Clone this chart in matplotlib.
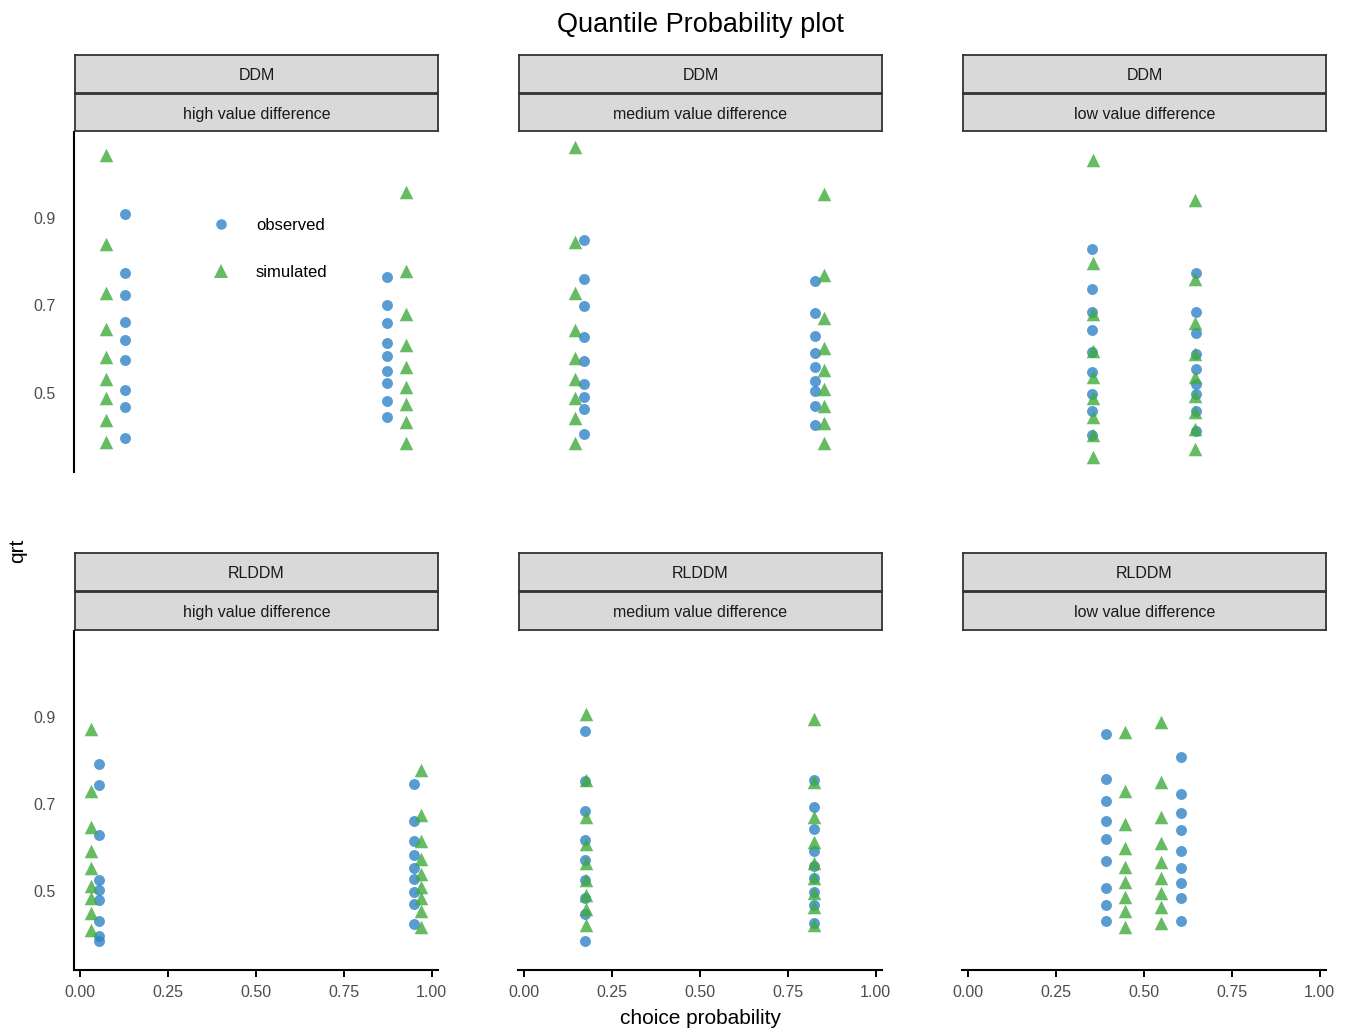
import matplotlib
matplotlib.use('Agg')
import matplotlib.pyplot as plt
from matplotlib.lines import Line2D

plt.rcParams['font.family'] = ['Liberation Sans', 'DejaVu Sans']

# ---------------- data ----------------
models = ['DDM', 'RLDDM']
conditions = ['high value difference', 'medium value difference', 'low value difference']
x_ticks = [0.0, 0.25, 0.5, 0.75, 1.0]
x_tick_labels = ['0.00', '0.25', '0.50', '0.75', '1.00']
y_ticks = [0.5, 0.7, 0.9]
y_tick_labels = ['0.5', '0.7', '0.9']

# choice probabilities (x positions of the columns), two options per panel
ddm_high_obs_p = [0.127, 0.873]
ddm_high_sim_p = [0.074, 0.926]
ddm_med_obs_p = [0.170, 0.827]
ddm_med_sim_p = [0.145, 0.853]
ddm_low_obs_p = [0.352, 0.648]
ddm_low_sim_p = [0.355, 0.645]
rl_high_obs_p = [0.053, 0.949]
rl_high_sim_p = [0.030, 0.971]
rl_med_obs_p = [0.173, 0.825]
rl_med_sim_p = [0.176, 0.824]
rl_low_obs_p = [0.392, 0.605]
rl_low_sim_p = [0.446, 0.550]

# response-time quantiles per option (9 quantiles each)
ddm_high_obs_q = [[0.911, 0.775, 0.725, 0.661, 0.620, 0.574, 0.505, 0.467, 0.396],
                  [0.766, 0.700, 0.659, 0.614, 0.585, 0.549, 0.522, 0.480, 0.444]]
ddm_high_sim_q = [[1.046, 0.842, 0.728, 0.646, 0.581, 0.531, 0.488, 0.438, 0.387],
                  [0.960, 0.780, 0.680, 0.610, 0.558, 0.514, 0.473, 0.432, 0.385]]
ddm_med_obs_q = [[0.850, 0.761, 0.699, 0.627, 0.573, 0.520, 0.490, 0.463, 0.406],
                 [0.756, 0.682, 0.631, 0.591, 0.558, 0.527, 0.503, 0.470, 0.425]]
ddm_med_sim_q = [[1.063, 0.846, 0.728, 0.644, 0.579, 0.531, 0.488, 0.442, 0.385],
                 [0.955, 0.771, 0.672, 0.602, 0.553, 0.509, 0.470, 0.431, 0.385]]
ddm_low_obs_q = [[0.829, 0.737, 0.686, 0.643, 0.594, 0.547, 0.498, 0.457, 0.404],
                 [0.774, 0.686, 0.638, 0.588, 0.554, 0.521, 0.497, 0.457, 0.412]]
ddm_low_sim_q = [[1.034, 0.798, 0.680, 0.596, 0.536, 0.488, 0.444, 0.402, 0.353],
                 [0.943, 0.761, 0.659, 0.588, 0.535, 0.493, 0.455, 0.417, 0.370]]
rl_high_obs_q = [[0.792, 0.744, 0.628, 0.525, 0.502, 0.478, 0.430, 0.397, 0.384],
                 [0.745, 0.660, 0.615, 0.582, 0.552, 0.527, 0.498, 0.470, 0.424]]
rl_high_sim_q = [[0.872, 0.729, 0.646, 0.591, 0.552, 0.511, 0.483, 0.450, 0.409],
                 [0.778, 0.674, 0.614, 0.573, 0.540, 0.510, 0.483, 0.453, 0.418]]
rl_med_obs_q = [[0.868, 0.754, 0.683, 0.618, 0.572, 0.524, 0.483, 0.447, 0.384],
                [0.755, 0.693, 0.642, 0.591, 0.557, 0.529, 0.498, 0.468, 0.426]]
rl_med_sim_q = [[0.906, 0.755, 0.670, 0.609, 0.565, 0.525, 0.491, 0.458, 0.422],
                [0.896, 0.751, 0.670, 0.613, 0.565, 0.529, 0.496, 0.462, 0.422]]
rl_low_obs_q = [[0.860, 0.758, 0.706, 0.661, 0.619, 0.569, 0.506, 0.468, 0.431],
                [0.809, 0.723, 0.679, 0.641, 0.592, 0.553, 0.519, 0.483, 0.431]]
rl_low_sim_q = [[0.866, 0.731, 0.655, 0.599, 0.556, 0.521, 0.487, 0.454, 0.416],
                [0.889, 0.751, 0.670, 0.611, 0.566, 0.530, 0.496, 0.463, 0.425]]

panels = [
    [(ddm_high_obs_p, ddm_high_obs_q, ddm_high_sim_p, ddm_high_sim_q),
     (ddm_med_obs_p, ddm_med_obs_q, ddm_med_sim_p, ddm_med_sim_q),
     (ddm_low_obs_p, ddm_low_obs_q, ddm_low_sim_p, ddm_low_sim_q)],
    [(rl_high_obs_p, rl_high_obs_q, rl_high_sim_p, rl_high_sim_q),
     (rl_med_obs_p, rl_med_obs_q, rl_med_sim_p, rl_med_sim_q),
     (rl_low_obs_p, rl_low_obs_q, rl_low_sim_p, rl_low_sim_q)],
]

# ---------------- style ----------------
BLUE = '#2f83c8'
GREEN = '#40aa3c'
ALPHA = 0.8
STRIP_FILL = '#d9d9d9'
STRIP_EDGE = '#333333'
TICK_COLOR = '#4d4d4d'

W, H = 1353, 1030
fig = plt.figure(figsize=(W / 100, H / 100), dpi=100)


def fx(x):
    return x / W


def fy(y):
    return 1 - y / H


col_left = [74, 518, 962]
col_w = 364
row_top = [132, 631]
row_bot = [472, 970]
strip_rows = [[(55, 93), (94, 131)], [(553, 591), (592, 630)]]

first_ax = None
for r in range(2):
    for c in range(3):
        L = col_left[c]
        ax = fig.add_axes([fx(L), fy(row_bot[r]), col_w / W, (row_bot[r] - row_top[r]) / H])
        obs_p, obs_q, sim_p, sim_q = panels[r][c]
        for p, q in zip(obs_p, obs_q):
            ax.scatter([p] * len(q), q, s=62, marker='o', color=BLUE, alpha=ALPHA,
                       linewidths=0, zorder=3)
        for p, q in zip(sim_p, sim_q):
            ax.scatter([p] * len(q), q, s=95, marker='^', color=GREEN, alpha=ALPHA,
                       linewidths=0, zorder=4)
        ax.set_xlim(-0.017, 1.018)
        ax.set_ylim(0.318, 1.098)
        for sp in ax.spines.values():
            sp.set_visible(False)
        ax.set_xticks(x_ticks)
        ax.set_yticks(y_ticks)
        if r == 1:
            ax.spines['bottom'].set_visible(True)
            ax.spines['bottom'].set_linewidth(1.5)
            ax.set_xticklabels(x_tick_labels)
            ax.tick_params(axis='x', length=5, width=1.4, color='black',
                           labelcolor=TICK_COLOR, labelsize=11.5, pad=6)
        else:
            ax.tick_params(axis='x', bottom=False, labelbottom=False)
        if c == 0:
            ax.spines['left'].set_visible(True)
            ax.spines['left'].set_linewidth(1.5)
            ax.set_yticklabels(y_tick_labels)
            ax.tick_params(axis='y', length=0, labelcolor=TICK_COLOR, labelsize=11.5, pad=13)
        else:
            ax.tick_params(axis='y', left=False, labelleft=False)
        if first_ax is None:
            first_ax = ax

        # strips
        for (t, b), label in zip(strip_rows[r], [models[r], conditions[c]]):
            sax = fig.add_axes([fx(L + 1), fy(b), (col_w - 1) / W, (b - t) / H])
            sax.set_facecolor(STRIP_FILL)
            sax.set_xticks([])
            sax.set_yticks([])
            for sp in sax.spines.values():
                sp.set_color(STRIP_EDGE)
                sp.set_linewidth(1.3)
            sax.text(0.5, 0.45, label, ha='center', va='center', fontsize=11.5,
                     color='#1a1a1a', transform=sax.transAxes)

# legend
handles = [Line2D([], [], marker='o', ls='', color=BLUE, alpha=ALPHA, markersize=7.6,
                  markeredgewidth=0),
           Line2D([], [], marker='^', ls='', color=GREEN, alpha=ALPHA, markersize=9.5,
                  markeredgewidth=0)]
first_ax.legend(handles, ['observed', 'simulated'], loc='upper left',
                bbox_to_anchor=(fx(211), fy(218)), bbox_transform=fig.transFigure,
                frameon=False, fontsize=12, labelspacing=1.9, handletextpad=1.5,
                borderpad=0, borderaxespad=0, handlelength=1.2)

fig.text(fx(700), fy(25), 'Quantile Probability plot', ha='center', va='center', fontsize=19.5)
fig.text(fx(700), fy(1018), 'choice probability', ha='center', va='center', fontsize=15)
fig.text(fx(18), fy(551), 'qrt', ha='center', va='center', rotation=90, fontsize=15)

fig.savefig('out.png', dpi=100)
